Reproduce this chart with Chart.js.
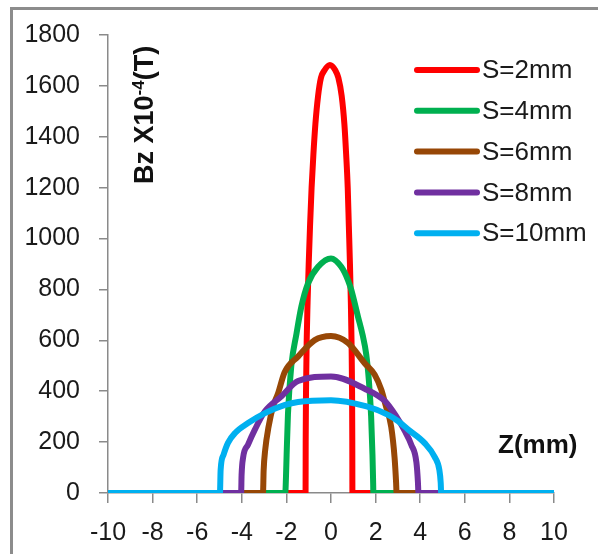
<!DOCTYPE html>
<html>
<head>
<meta charset="utf-8">
<script src="https://cdn.jsdelivr.net/npm/chart.js@4.4.1/dist/chart.umd.min.js"></script>
<style>
    html, body { margin: 0; padding: 0; background: #fff; overflow: hidden; }
    #frame { position: absolute; left: 10px; top: 7px; width: 700px; height: 700px; border: 3px solid #8c8c8c; }
    #wrap { position: absolute; left: 0; top: 0; width: 598px; height: 554px; }
</style>
</head>
<body>
<div id="frame"></div>
<div id="wrap"><canvas id="bz-chart"></canvas></div>
<script>
// Axial field Bz along z for different gap widths S
const seriesLabels = ['S=2mm', 'S=4mm', 'S=6mm', 'S=8mm', 'S=10mm'];

const z2  = [-10, -1.14, -1.135, -1.12, -1.09, -1.05, -1.0, -0.94, -0.87, -0.79, -0.7, -0.58, -0.45, -0.3, -0.05, 0.2, 0.33, 0.48, 0.6, 0.68, 0.75, 0.8, 0.85, 0.89, 0.92, 0.945, 0.955, 0.96, 10];
const bz2 = [0, 0, 200, 400, 600, 750, 900, 1050, 1200, 1330, 1450, 1560, 1632, 1660, 1682, 1660, 1632, 1560, 1450, 1330, 1200, 1050, 900, 750, 600, 400, 200, 0, 0];

const z4  = [-10, -2.05, -2.02, -1.99, -1.93, -1.78, -1.55, -1.33, -1.03, -0.58, 0, 0.46, 0.76, 0.91, 1.21, 1.42, 1.58, 1.7, 1.8, 1.86, 1.89, 1.9, 10];
const bz4 = [0, 0, 60, 150, 310, 500, 625, 732, 824, 889, 922, 889, 837, 798, 693, 620, 545, 440, 300, 150, 40, 0, 0];

const z6  = [-10, -3.05, -3.02, -2.95, -2.8, -2.6, -2.38, -2.08, -1.48, -0.73, 0, 0.76, 1.51, 1.96, 2.26, 2.45, 2.7, 2.85, 2.92, 2.94, 10];
const bz6 = [0, 0, 90, 170, 260, 340, 390, 475, 536, 601, 617, 590, 510, 465, 405, 345, 260, 140, 40, 0, 0];

const z8  = [-10, -4.03, -4.01, -3.94, -3.72, -3.42, -2.97, -2.22, -1.48, 0, 1.51, 2.41, 2.9, 3.3, 3.6, 3.83, 3.9, 3.92, 10];
const bz8 = [0, 0, 70, 140, 190, 248, 320, 380, 440, 458, 410, 362, 305, 245, 190, 120, 40, 0, 0];

const z10  = [-10, -4.98, -4.95, -4.82, -4.62, -4.3, -3.72, -2.96, -2.06, -1.48, 0, 1.6, 2.56, 3.0, 3.45, 4.2, 4.66, 4.86, 4.92, 4.94, 10];
const bz10 = [0, 0, 90, 150, 197, 236, 275, 314, 346, 358, 365, 340, 307, 283, 250, 196, 140, 90, 40, 0, 0];

const seriesZ  = [z2, z4, z6, z8, z10];
const seriesBz = [bz2, bz4, bz6, bz8, bz10];
const seriesColors = ['#ff0000', '#00b050', '#974706', '#7030a0', '#00b0f0'];

const FONT = "'Liberation Sans', Arial, sans-serif";
const AXIS_GRAY = '#8a8a8a';

function toPoints(zs, bs) {
    return zs.map((z, i) => ({ x: z, y: bs[i] }));
}

const datasets = seriesLabels.map((label, i) => ({
    label,
    data: toPoints(seriesZ[i], seriesBz[i]),
    borderColor: seriesColors[i],
    backgroundColor: seriesColors[i],
    borderWidth: 6,
    pointRadius: 0,
    showLine: true,
    cubicInterpolationMode: 'monotone',
    // later series sit on top, like the spreadsheet
    order: seriesLabels.length - i
}));

// legend drawn inside the plot, upper right
const insideLegend = {
    id: 'insideLegend',
    afterDraw(chart) {
        const ctx = chart.ctx;
        ctx.save();
        ctx.font = `26px ${FONT}`;
        ctx.textBaseline = 'middle';
        ctx.textAlign = 'left';
        chart.data.datasets.forEach((ds, i) => {
            const y = 70 + i * 40.8;
            ctx.strokeStyle = ds.borderColor;
            ctx.lineWidth = 6;
            ctx.lineCap = 'round';
            ctx.beginPath();
            ctx.moveTo(417, y);
            ctx.lineTo(477, y);
            ctx.stroke();
            ctx.fillStyle = '#1a1a1a';
            ctx.fillText(ds.label, 482, y + 1);
        });
        ctx.restore();
    }
};

// axis titles sit inside the plot area
const axisTitles = {
    id: 'axisTitles',
    afterDraw(chart) {
        const ctx = chart.ctx;
        ctx.save();
        ctx.fillStyle = '#111';
        ctx.textAlign = 'left';
        ctx.textBaseline = 'alphabetic';

        ctx.font = `bold 26px ${FONT}`;
        ctx.fillText('Z(mm)', 498, 453);

        ctx.translate(153, 184);
        ctx.rotate(-Math.PI / 2);
        let u = 0;
        ctx.font = `bold 27px ${FONT}`;
        ctx.fillText('Bz X10', u, 0);
        u += ctx.measureText('Bz X10').width;
        ctx.font = `bold 17px ${FONT}`;
        ctx.fillText('-4', u, -9);
        u += ctx.measureText('-4').width;
        ctx.font = `bold 27px ${FONT}`;
        ctx.fillText('(T)', u, 0);
        ctx.restore();
    }
};

new Chart(document.getElementById('bz-chart'), {
    type: 'scatter',
    data: { datasets },
    options: {
        responsive: true,
        maintainAspectRatio: false,
        animation: false,
        layout: { padding: { top: 35, right: 44, left: 0, bottom: 0 } },
        plugins: {
            legend: { display: false },
            tooltip: { enabled: false }
        },
        scales: {
            x: {
                type: 'linear',
                min: -10,
                max: 10,
                afterFit(axis) { axis.height = 61; },
                ticks: { stepSize: 2, padding: 15, color: '#1a1a1a', font: { family: FONT, size: 25 }, callback: v => String(v) },
                grid: { drawOnChartArea: false, tickLength: 10, color: AXIS_GRAY, tickColor: AXIS_GRAY, lineWidth: 1.5 },
                border: { color: AXIS_GRAY, width: 1.5 }
            },
            y: {
                min: 0,
                max: 1800,
                afterFit(axis) { axis.width = 108; },
                ticks: { stepSize: 200, padding: 19, color: '#1a1a1a', font: { family: FONT, size: 25 }, callback: v => String(v) },
                grid: { drawOnChartArea: false, tickLength: 9, color: AXIS_GRAY, tickColor: AXIS_GRAY, lineWidth: 1.5 },
                border: { color: AXIS_GRAY, width: 1.5 }
            }
        }
    },
    plugins: [insideLegend, axisTitles]
});
</script>
</body>
</html>
